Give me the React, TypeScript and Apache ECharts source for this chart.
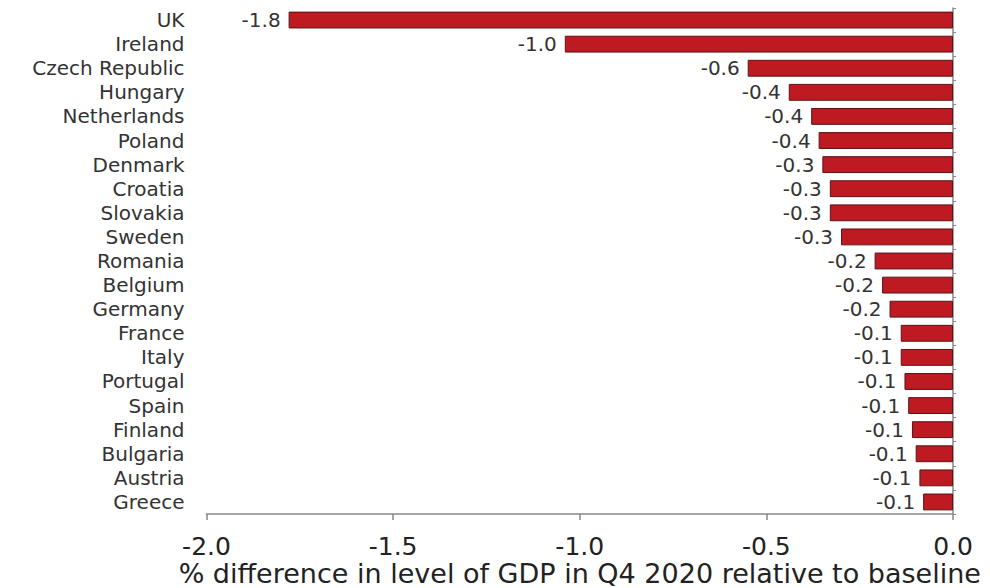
import React, { useEffect, useRef } from "react";
import * as echarts from "echarts";

const countries = [
  "UK", "Ireland", "Czech Republic", "Hungary", "Netherlands", "Poland", "Denmark",
  "Croatia", "Slovakia", "Sweden", "Romania", "Belgium", "Germany", "France",
  "Italy", "Portugal", "Spain", "Finland", "Bulgaria", "Austria", "Greece",
];
const gdpDiff = [
  -1.78, -1.04, -0.55, -0.44, -0.38, -0.36, -0.35,
  -0.33, -0.33, -0.3, -0.21, -0.19, -0.17, -0.14,
  -0.14, -0.13, -0.12, -0.11, -0.1, -0.09, -0.08,
];
const axisTitle = "% difference in level of GDP in Q4 2020 relative to baseline";

const FONT = "DejaVu Sans";

export default function App() {
  const ref = useRef<HTMLDivElement>(null);
  useEffect(() => {
    document.body.style.margin = "0";
    const chart = echarts.init(ref.current!, null, { renderer: "svg" });
    chart.setOption({
      animation: false,
      backgroundColor: "#ffffff",
      grid: {
        left: 206.5,
        right: 37,
        top: 8,
        bottom: 74,
        containLabel: false,
        outerBoundsMode: "none",
      },
      xAxis: {
        type: "value",
        min: -2,
        max: 0,
        interval: 0.5,
        name: axisTitle,
        nameLocation: "middle",
        nameGap: 46,
        nameMoveOverlap: false,
        nameTextStyle: { fontFamily: FONT, fontSize: 27, lineHeight: 26, color: "#222" },
        axisLine: { show: true, onZero: false, lineStyle: { color: "#888", width: 1.5 } },
        axisTick: { show: true, length: 6, lineStyle: { color: "#888", width: 1.5 } },
        axisLabel: {
          fontFamily: FONT,
          fontSize: 25,
          lineHeight: 23,
          color: "#222",
          margin: 21,
          formatter: (v: number) => v.toFixed(1),
        },
        splitLine: { show: false },
      },
      yAxis: [
        {
          type: "category",
          data: countries,
          inverse: true,
          position: "left",
          axisLine: { show: false },
          axisTick: { show: false },
          axisLabel: { interval: 0, fontFamily: FONT, fontSize: 20, color: "#333", margin: 22 },
        },
        {
          type: "category",
          data: countries,
          inverse: true,
          position: "right",
          axisLine: { show: true, lineStyle: { color: "#888", width: 1.5 } },
          axisTick: { show: true, interval: 0, length: 3, lineStyle: { color: "#888" } },
          axisLabel: { show: false },
        },
      ],
      series: [
        {
          type: "bar",
          data: gdpDiff,
          yAxisIndex: 0,
          barCategoryGap: "30%",
          itemStyle: { color: "#BE1A22", borderColor: "#5a1414", borderWidth: 1 },
          label: {
            show: true,
            position: "left",
            distance: 8,
            fontFamily: FONT,
            fontSize: 20,
            color: "#333",
            formatter: (p: any) => (p.value as number).toFixed(1),
          },
        },
      ],
    });
    return () => chart.dispose();
  }, []);
  return <div ref={ref} style={{ width: 990, height: 588 }} />;
}
